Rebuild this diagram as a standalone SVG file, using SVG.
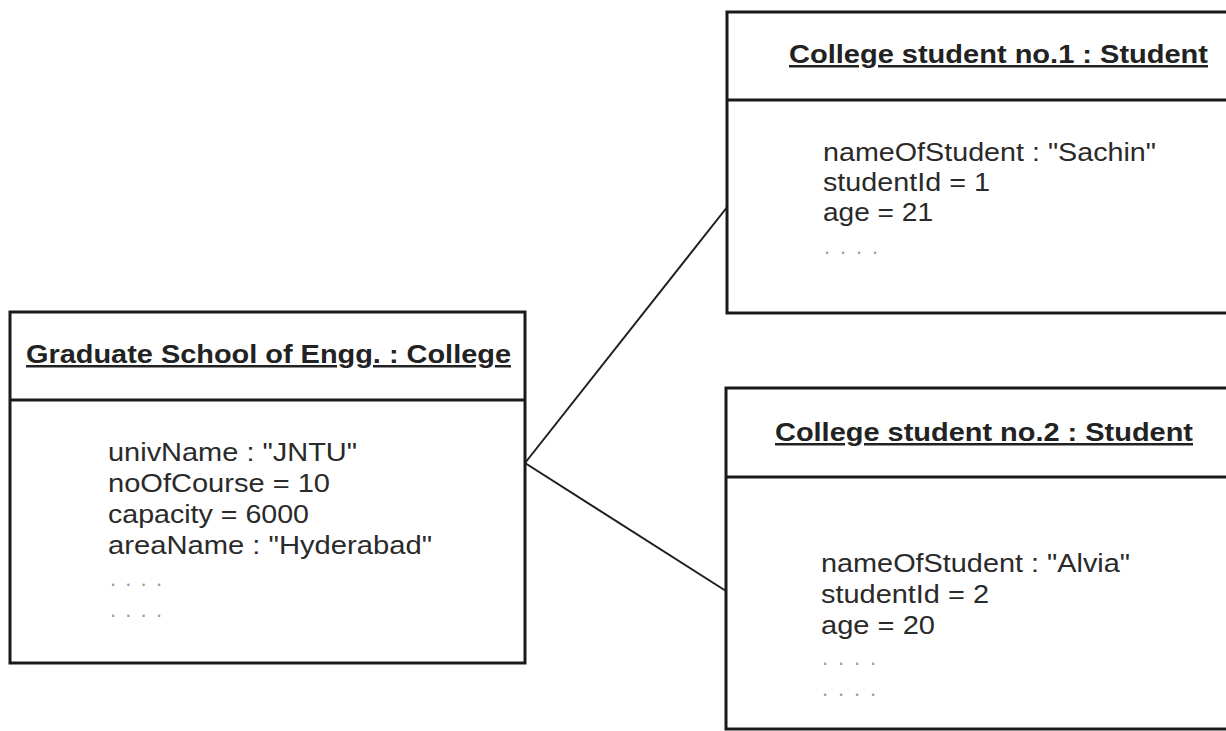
<svg xmlns="http://www.w3.org/2000/svg" width="1226" height="731" viewBox="0 0 1226 731">
  <style>
    .box { fill: #ffffff; stroke: #1a1a1a; stroke-width: 3; }
    .div { stroke: #1a1a1a; stroke-width: 3; }
    .link { stroke: #1e1e1e; stroke-width: 2; fill: none; }
    .title { font-family: "Liberation Sans", Arial, sans-serif; font-weight: bold; font-size: 25px; fill: #222222; text-decoration: underline; }
    .attr { font-family: "Liberation Sans", Arial, sans-serif; font-size: 25px; fill: #2a2a2a; }
    .more { font-family: "Liberation Sans", Arial, sans-serif; font-size: 22px; fill: #9a9a9a; }
  </style>
  <rect width="1226" height="731" fill="#ffffff"/>

  <!-- links between the college object and its students -->
  <g id="connectors">
    <line class="link" x1="525" y1="463" x2="728" y2="206"/>
    <line class="link" x1="525" y1="463" x2="726" y2="591"/>
  </g>

  <!-- college object -->
  <g id="college">
    <rect class="box" x="10" y="312" width="515" height="351"/>
    <line class="div" x1="10" y1="400" x2="525" y2="400"/>
    <text class="title" x="26" y="363" textLength="485" lengthAdjust="spacingAndGlyphs">Graduate School of Engg. : College</text>
    <text class="attr" x="108" y="461" textLength="249" lengthAdjust="spacingAndGlyphs">univName : "JNTU"</text>
    <text class="attr" x="108" y="492" textLength="222" lengthAdjust="spacingAndGlyphs">noOfCourse = 10</text>
    <text class="attr" x="108" y="523" textLength="201" lengthAdjust="spacingAndGlyphs">capacity = 6000</text>
    <text class="attr" x="108" y="554" textLength="324" lengthAdjust="spacingAndGlyphs">areaName : "Hyderabad"</text>
    <text class="more" x="110" y="586" textLength="52" lengthAdjust="spacing">. . . .</text>
    <text class="more" x="110" y="617" textLength="52" lengthAdjust="spacing">. . . .</text>
  </g>

  <!-- first student object -->
  <g id="student1">
    <rect class="box" x="727" y="12" width="520" height="301"/>
    <line class="div" x1="727" y1="100" x2="1247" y2="100"/>
    <text class="title" x="789" y="63" textLength="419" lengthAdjust="spacingAndGlyphs">College student no.1 : Student</text>
    <text class="attr" x="823" y="161" textLength="333" lengthAdjust="spacingAndGlyphs">nameOfStudent : "Sachin"</text>
    <text class="attr" x="823" y="191" textLength="167" lengthAdjust="spacingAndGlyphs">studentId = 1</text>
    <text class="attr" x="823" y="221" textLength="110" lengthAdjust="spacingAndGlyphs">age = 21</text>
    <text class="more" x="824" y="254" textLength="54" lengthAdjust="spacing">. . . .</text>
  </g>

  <!-- second student object -->
  <g id="student2">
    <rect class="box" x="726" y="388" width="521" height="341"/>
    <line class="div" x1="726" y1="477" x2="1247" y2="477"/>
    <text class="title" x="775" y="441" textLength="418" lengthAdjust="spacingAndGlyphs">College student no.2 : Student</text>
    <text class="attr" x="821" y="572" textLength="309" lengthAdjust="spacingAndGlyphs">nameOfStudent : "Alvia"</text>
    <text class="attr" x="821" y="603" textLength="168" lengthAdjust="spacingAndGlyphs">studentId = 2</text>
    <text class="attr" x="821" y="634" textLength="114" lengthAdjust="spacingAndGlyphs">age = 20</text>
    <text class="more" x="822" y="665" textLength="54" lengthAdjust="spacing">. . . .</text>
    <text class="more" x="822" y="696" textLength="54" lengthAdjust="spacing">. . . .</text>
  </g>
</svg>
